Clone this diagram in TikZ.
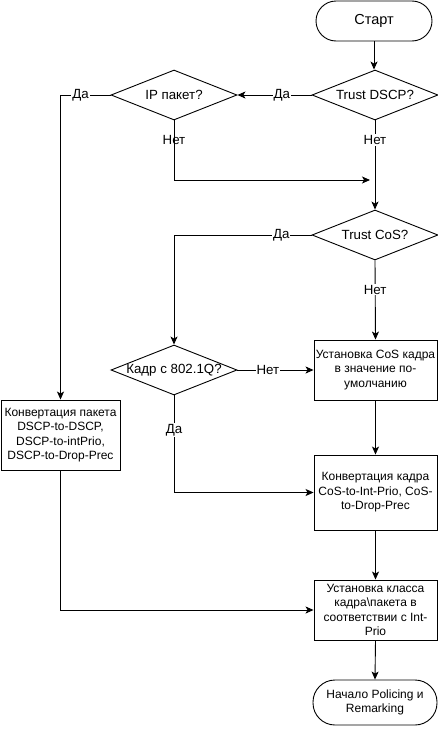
\documentclass[tikz,border=0pt]{standalone}
\usepackage{fontspec}
\setmainfont{Liberation Sans}
\usetikzlibrary{shapes.geometric,arrows.meta}
\begin{document}
\begin{tikzpicture}[x=1pt,y=-1pt,
  every node/.style={font=\fontsize{12}{14.5}\selectfont, align=center},
  base/.style={draw, line width=0.9pt, inner sep=1pt},
  term/.style={base, rectangle, rounded corners=20pt},
  decision/.style={base, diamond, minimum width=126pt, minimum height=50pt, inner sep=0pt,
    font=\fontsize{13.3}{15}\selectfont},
  proc/.style={base, rectangle, minimum width=123pt},
  conn/.style={line width=0.9pt, -{Stealth[length=8pt,width=7pt,inset=2pt]}},
  lbl/.style={fill=white, inner sep=1pt, font=\fontsize{13.3}{15}\selectfont},
  lbln/.style={inner sep=1pt, font=\fontsize{13.3}{15}\selectfont}
]
\useasboundingbox (0,0) rectangle (438,731);

\node[term, minimum width=116pt, minimum height=40pt, font=\fontsize{14.5}{16}\selectfont] (start) at (374,21) {Старт};
\node[decision] (dscp) at (375,95) {\makebox[0pt]{Trust DSCP?}};
\node[decision] (ip) at (174,95) {\makebox[0pt]{IP пакет?}};
\node[decision] (cos) at (375,235) {\makebox[0pt]{Trust CoS?}};
\node[decision] (q) at (174,370) {\makebox[0pt]{Кадр с 802.1Q?}};
\node[proc, minimum height=60pt] (setcos) at (375.5,370) {Установка CoS кадра\\в значение по-\\умолчанию};
\node[proc, minimum height=75pt] (convk) at (375.5,492.5) {Конвертация кадра\\CoS-to-Int-Prio, CoS-\\to-Drop-Prec};
\node[proc, minimum height=60pt] (cls) at (375.5,610) {Установка класса\\кадра\textbackslash пакета в\\соответствии с Int-\\Prio};
\node[proc, minimum width=119pt, minimum height=70pt] (convp) at (60.5,435) {Конвертация пакета\\DSCP-to-DSCP,\\DSCP-to-intPrio,\\DSCP-to-Drop-Prec};
\node[term, rounded corners=22pt, minimum width=124pt, minimum height=45pt] (fin) at (375,702.5) {Начало Policing и\\Remarking};

\coordinate (merge) at (370,180);

\draw[conn] (start.south) -- (start.south |- dscp.north);
\draw[conn] (dscp.west) -- node[lbl, pos=0.4] {Да} (ip.east);
\draw[conn] (ip.west) -- node[lbl, pos=0.6] {Да} (convp.north |- ip.west) -- (convp.north);
\draw[conn] (ip.south) -- node[lbln, pos=0.33] {Нет} (ip.south |- merge) -- (merge);
\draw[conn] (dscp.south) -- node[lbl, pos=0.22] {Нет} (cos.north);
\draw[conn] (cos.west) -- node[lbl, pos=0.22] {Да} (q.north |- cos.west) -- (q.north);
\draw[conn] (cos.south) -- node[lbl, pos=0.37] {Нет} (setcos.north);
\draw[conn] (q.east) -- node[lbl, pos=0.4] {Нет} (setcos.west);
\draw[conn] (q.south) -- node[lbl, pos=0.36] {Да} (q.south |- convk.west) -- (convk.west);
\draw[conn] (setcos.south) -- (convk.north);
\draw[conn] (convk.south) -- (cls.north);
\draw[conn] (convp.south) -- (convp.south |- cls.west) -- (cls.west);
\draw[conn] (cls.south) -- (fin.north);
\end{tikzpicture}
\end{document}
